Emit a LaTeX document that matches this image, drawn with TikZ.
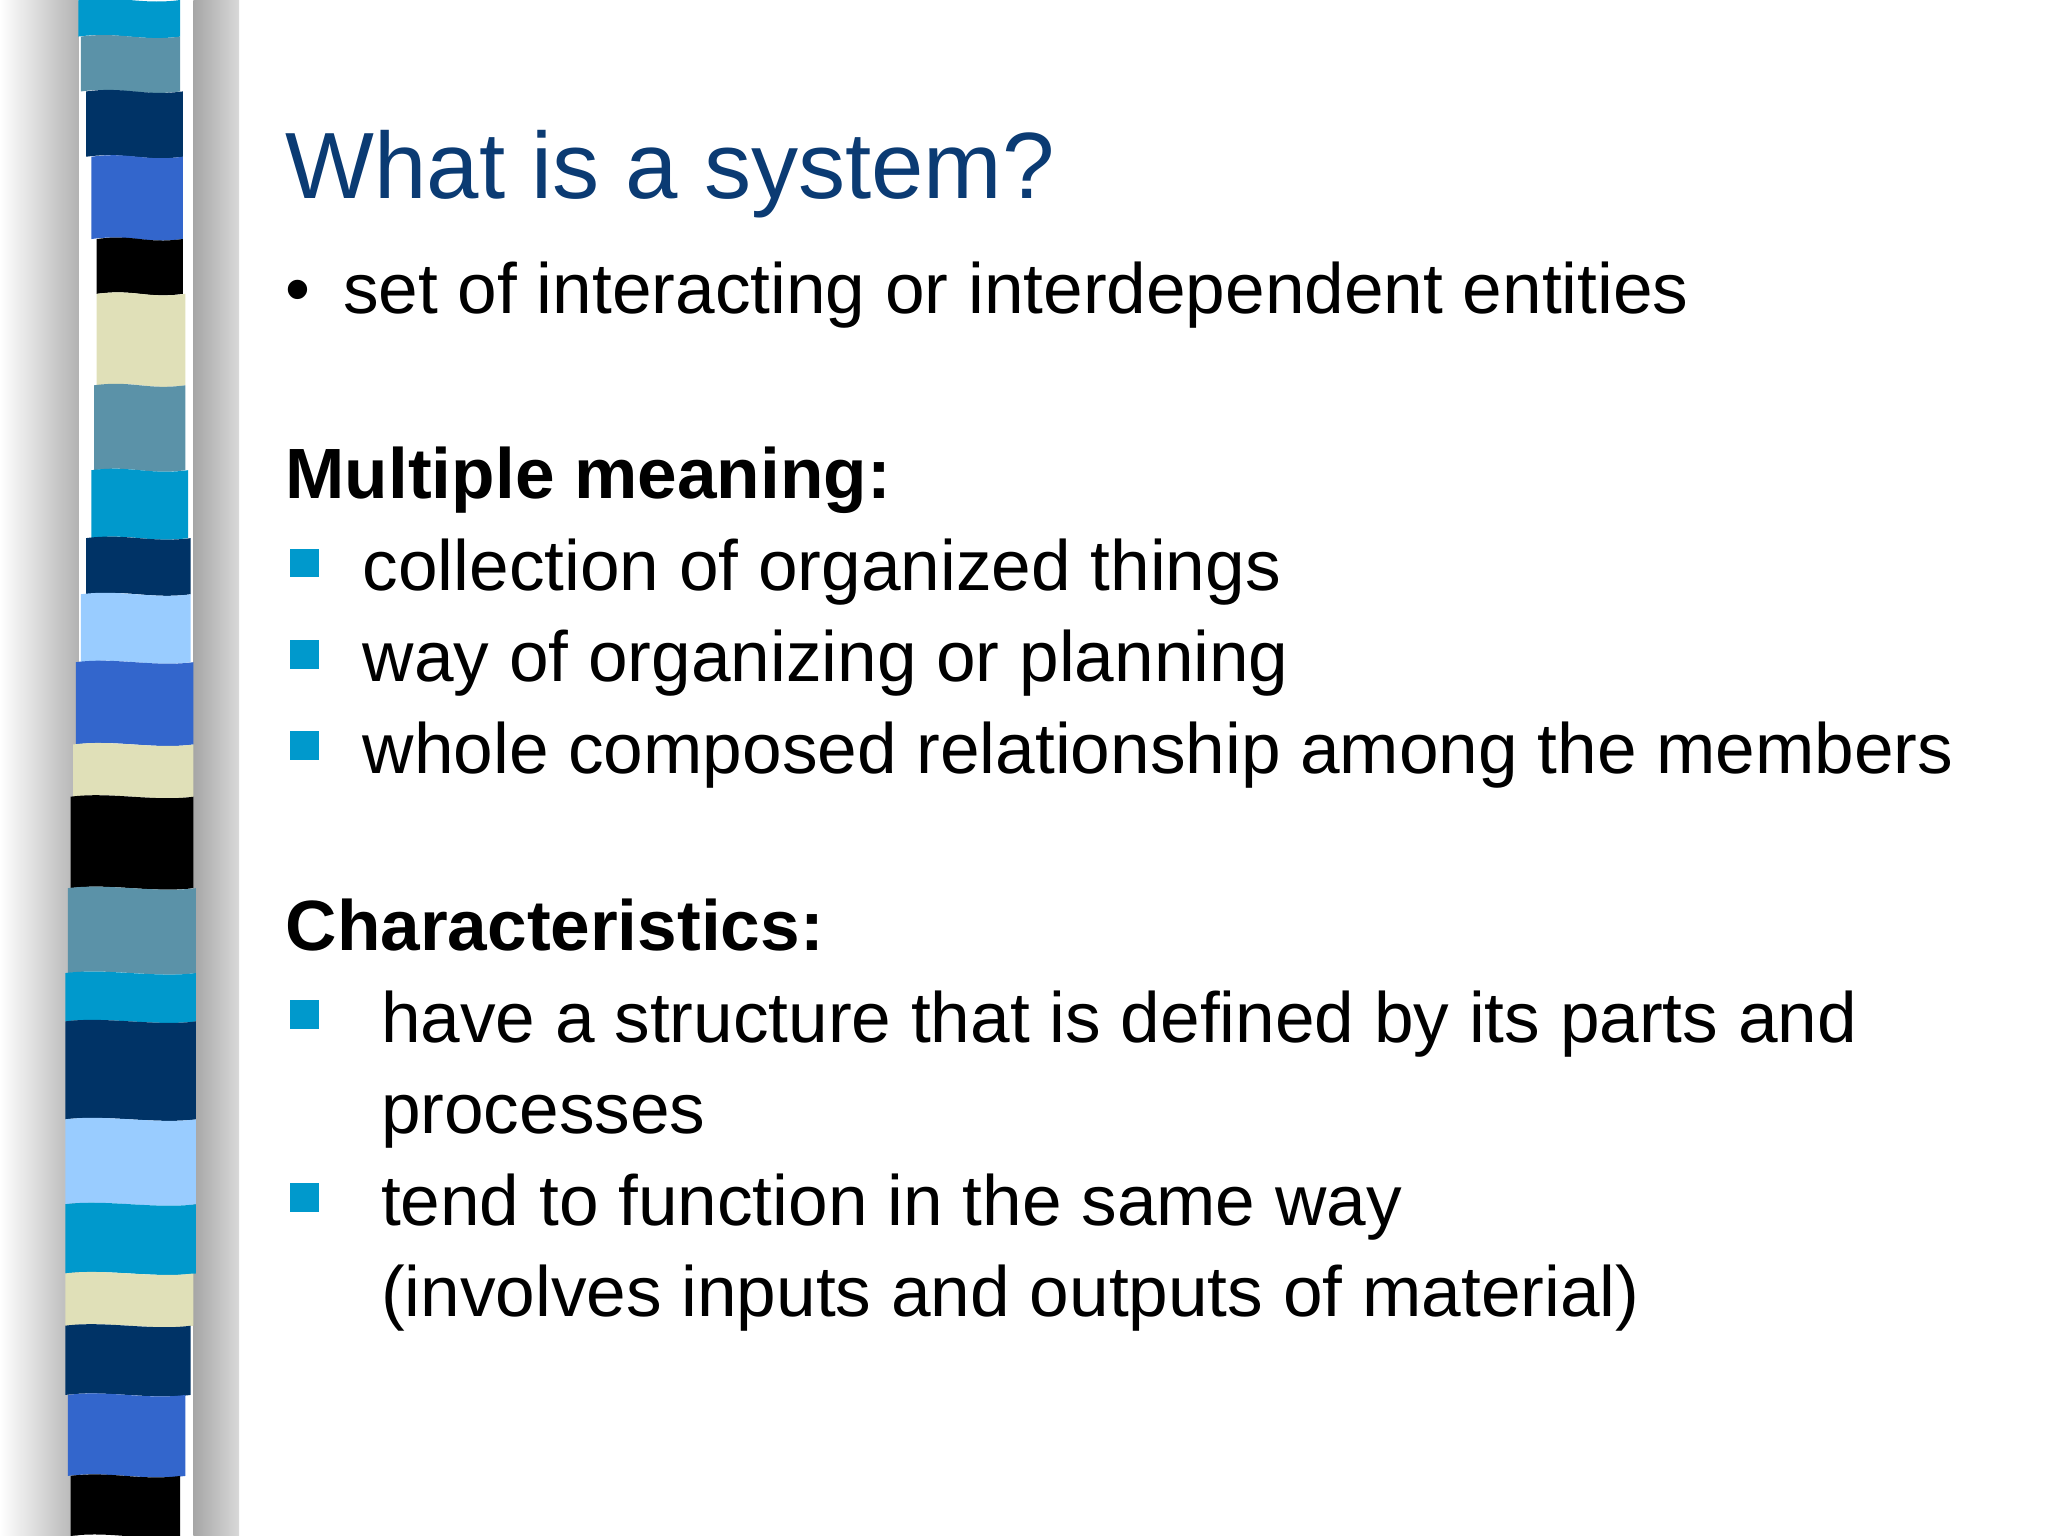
\documentclass[tikz,border=0pt]{standalone}
\usepackage{fontspec}
\setmainfont{Liberation Sans}
\definecolor{cy}{HTML}{0099CC}
\definecolor{st}{HTML}{5B92A8}
\definecolor{nv}{HTML}{003366}
\definecolor{rb}{HTML}{3366CC}
\definecolor{bg}{HTML}{E0E0B8}
\definecolor{lb}{HTML}{99CCFF}
\definecolor{bk}{HTML}{000000}
\definecolor{ttl}{HTML}{0B3B73}
\begin{document}
\begin{tikzpicture}[x=0.01cm,y=-0.01cm,
  txt/.style={anchor=base west,inner sep=0,font=\fontsize{15.5}{18}\selectfont},
  sq/.style={fill=cy,minimum size=0.22cm,inner sep=0}]
\useasboundingbox (0,0) rectangle (1568,1176);
\fill[white] (0,0) rectangle (1568,1176);
\shade[left color=white,right color=gray!60] (0,0) rectangle (60,1176);
\shade[left color=gray!70,right color=gray!30] (148,0) rectangle (183,1176);
\foreach \a/\b/\c/\l/\r in {0/28/cy/60/138,28/70/st/62/138,70/120/nv/66/140,120/183/rb/70/140,183/225/bk/74/140,225/295/bg/74/142,295/360/st/72/142,360/412/cy/70/144,412/455/nv/66/146,455/507/lb/62/146,507/570/rb/58/148,570/610/bg/56/148,610/680/bk/54/148,680/745/st/52/150,745/782/cy/50/150,782/857/nv/50/150,857/922/lb/50/150,922/975/cy/50/150,975/1015/bg/50/148,1015/1068/nv/50/146,1068/1130/rb/52/142,1130/1176/bk/54/138}
  \fill[\c] (\l,\a) .. controls (\l+30,\a-4) and (\r-30,\a+4) .. (\r,\a) -- (\r,\b) .. controls (\r-30,\b+4) and (\l+30,\b-4) .. (\l,\b) -- cycle;
\node[anchor=base west,inner sep=0,text=ttl,font=\fontsize{20.5}{24}\selectfont] (title) at (218,152) {What is a system?};
\node[txt] (b0) at (218,240) {•};
\node[txt] (t0) at (262,240) {set of interacting or interdependent entities};
\node[txt,font=\fontsize{15.5}{18}\selectfont\bfseries] (h1) at (218,382) {Multiple meaning:};
\node[sq] (s1) at (233,431) {}; \node[txt] (t1) at (277,452) {collection of organized things};
\node[sq] (s2) at (233,501) {}; \node[txt] (t2) at (277,522) {way of organizing or planning};
\node[sq] (s3) at (233,571) {}; \node[txt] (t3) at (277,592) {whole composed relationship among the members};
\node[txt,font=\fontsize{15.5}{18}\selectfont\bfseries] (h2) at (218,728) {Characteristics:};
\node[sq] (s4) at (233,777) {}; \node[txt] (t4) at (291,798) {have a structure that is defined by its parts and};
\node[txt] (t5) at (291,868) {processes};
\node[sq] (s5) at (233,917) {}; \node[txt] (t6) at (291,938) {tend to function in the same way};
\node[txt] (t7) at (291,1008) {(involves inputs and outputs of material)};
\end{tikzpicture}
\end{document}
